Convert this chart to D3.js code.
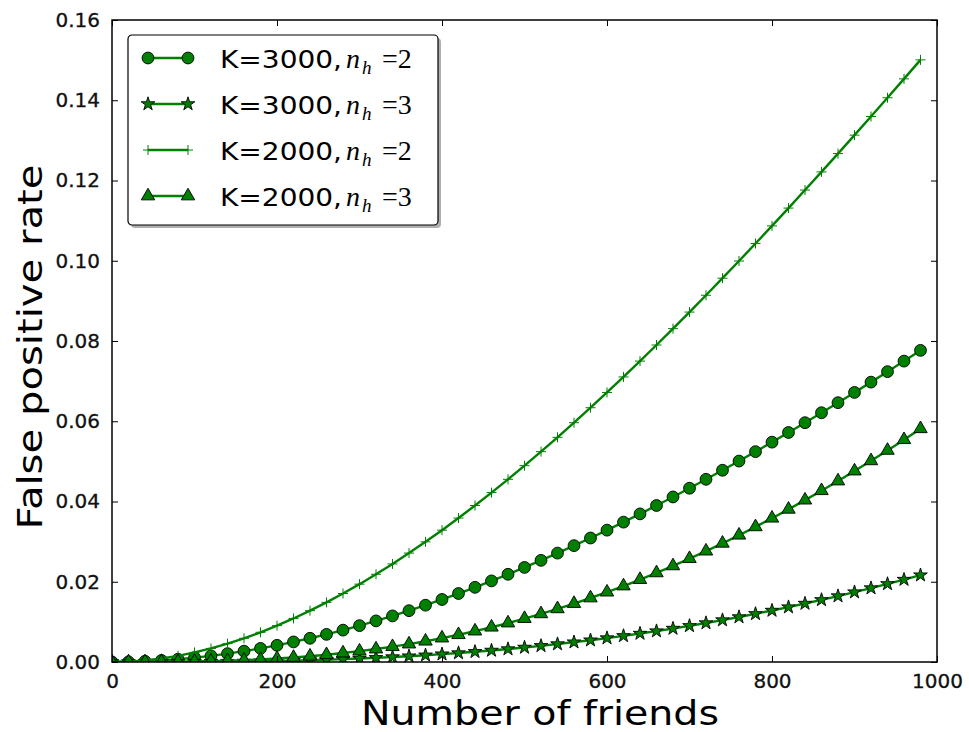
<!DOCTYPE html>
<html>
<head>
<meta charset="utf-8">
<script src="https://cdn.jsdelivr.net/npm/d3@7"></script>
<style>
  body { margin: 0; background: #fff; }
  text { font-family: "DejaVu Sans", sans-serif; }
</style>
</head>
<body>
<div id="graph"></div>
<script>
// x values (number of friends), one marker every 20
let friends = [0, 20, 40, 60, 80, 100, 120, 140, 160, 180, 200, 220, 240, 260, 280, 300, 320, 340, 360, 380,
  400, 420, 440, 460, 480, 500, 520, 540, 560, 580, 600, 620, 640, 660, 680, 700, 720, 740, 760, 780,
  800, 820, 840, 860, 880, 900, 920, 940, 960, 980];

// false positive rate
let k3000n2 = [0, 0.00004, 0.00018, 0.00039, 0.00069, 0.00108, 0.00154, 0.00208, 0.0027, 0.00339,
  0.00416, 0.005, 0.00591, 0.00689, 0.00794, 0.00906, 0.01024, 0.01148, 0.01279, 0.01416,
  0.01558, 0.01707, 0.01861, 0.02021, 0.02186, 0.02357, 0.02533, 0.02714, 0.029, 0.0309,
  0.03286, 0.03486, 0.03691, 0.039, 0.04113, 0.04331, 0.04553, 0.04779, 0.05008, 0.05242,
  0.05479, 0.0572, 0.05964, 0.06212, 0.06463, 0.06718, 0.06975, 0.07236, 0.07499, 0.07766];
let k3000n3 = [0, 0, 0, 0.00001, 0.00002, 0.00004, 0.00006, 0.00009, 0.00014, 0.0002,
  0.00027, 0.00035, 0.00045, 0.00057, 0.00071, 0.00086, 0.00104, 0.00123, 0.00145, 0.00168,
  0.00195, 0.00223, 0.00254, 0.00287, 0.00323, 0.00362, 0.00403, 0.00447, 0.00494, 0.00543,
  0.00596, 0.00651, 0.00709, 0.0077, 0.00834, 0.00901, 0.00971, 0.01045, 0.01121, 0.012,
  0.01283, 0.01368, 0.01457, 0.01548, 0.01643, 0.01741, 0.01842, 0.01946, 0.02054, 0.02164];
let k2000n2 = [0, 0.0001, 0.00039, 0.00087, 0.00154, 0.00238, 0.00339, 0.00457, 0.00591, 0.00741,
  0.00906, 0.01085, 0.01279, 0.01486, 0.01707, 0.0194, 0.02186, 0.02444, 0.02714, 0.02994,
  0.03286, 0.03588, 0.039, 0.04222, 0.04553, 0.04893, 0.05242, 0.05599, 0.05964, 0.06337,
  0.06718, 0.07105, 0.07499, 0.079, 0.08308, 0.08721, 0.0914, 0.09565, 0.09994, 0.10429,
  0.10869, 0.11313, 0.11762, 0.12214, 0.12671, 0.13131, 0.13595, 0.14062, 0.14533, 0.15006];
let k2000n3 = [0, 0, 0.00001, 0.00003, 0.00006, 0.00012, 0.0002, 0.00031, 0.00045, 0.00064,
  0.00086, 0.00113, 0.00145, 0.00181, 0.00223, 0.0027, 0.00323, 0.00382, 0.00447, 0.00518,
  0.00596, 0.0068, 0.0077, 0.00867, 0.00971, 0.01082, 0.012, 0.01325, 0.01457, 0.01595,
  0.01741, 0.01894, 0.02054, 0.02221, 0.02395, 0.02575, 0.02763, 0.02958, 0.0316, 0.03368,
  0.03583, 0.03805, 0.04034, 0.04269, 0.0451, 0.04758, 0.05013, 0.05273, 0.0554, 0.05813];

// legend pieces
let seriesK = ["K=3000,", "K=3000,", "K=2000,", "K=2000,"];
let seriesNh = ["2", "3", "2", "3"];
let seriesMarker = ["circle", "star", "plus", "triangle"];
let seriesValues = [k3000n2, k3000n3, k2000n2, k2000n3];

let xTicks = [0, 200, 400, 600, 800, 1000];
let yTicks = [0, 0.02, 0.04, 0.06, 0.08, 0.1, 0.12, 0.14, 0.16];

let green = "#008000";

// set the dimensions and margins of the graph
let margin = { top: 20, right: 32, bottom: 70, left: 112 },
  width = 969 - margin.left - margin.right,
  height = 732 - margin.top - margin.bottom;

let svg = d3
  .select("#graph")
  .append("svg")
  .attr("width", 969)
  .attr("height", 732)
  .append("g")
  .attr("transform", `translate(${margin.left},${margin.top})`);

let x = d3.scaleLinear().domain([0, 1000]).range([0, width]);
let y = d3.scaleLinear().domain([0, 0.16]).range([height, 0]);

svg
  .append("clipPath")
  .attr("id", "plotClip")
  .append("rect")
  .attr("width", width)
  .attr("height", height);

//marker shapes, drawn black edged like matplotlib
function markerPath(kind) {
  if (kind === "circle") return d3.symbol(d3.symbolCircle, 110)();
  if (kind === "star") return d3.symbol(d3.symbolStar, 58)();
  if (kind === "triangle") return d3.symbol(d3.symbolTriangle, 78)();
  return "M-5,0H5M0,-5V5";
}

function drawMarker(g, kind) {
  g.append("path")
    .attr("d", markerPath(kind))
    .attr("fill", kind === "plus" ? "none" : green)
    .attr("stroke", kind === "plus" ? green : "#000")
    .attr("stroke-width", kind === "plus" ? 1 : 0.9);
}

// curves and markers
let plot = svg.append("g").attr("clip-path", "url(#plotClip)");
let line = d3
  .line()
  .x((d, i) => x(friends[i]))
  .y((d) => y(d));

seriesValues.forEach((vals, s) => {
  let g = plot.append("g");
  g.append("path")
    .datum(vals)
    .attr("fill", "none")
    .attr("stroke", green)
    .attr("stroke-width", 2.4)
    .attr("d", line);
  vals.forEach((v, i) => {
    let m = g
      .append("g")
      .attr("transform", `translate(${x(friends[i])},${y(v)})`);
    drawMarker(m, seriesMarker[s]);
  });
});

//axes: ticks point inward on all four sides
svg
  .append("g")
  .attr("transform", `translate(0,${height})`)
  .call(d3.axisBottom(x).tickValues(xTicks).tickSizeInner(-6).tickSizeOuter(0).tickPadding(12).tickFormat(d3.format("d")));
svg
  .append("g")
  .call(d3.axisTop(x).tickValues(xTicks).tickSizeInner(-6).tickSizeOuter(0).tickFormat(""));
svg
  .append("g")
  .call(d3.axisLeft(y).tickValues(yTicks).tickSizeInner(-6).tickSizeOuter(0).tickPadding(12).tickFormat(d3.format(".2f")));
svg
  .append("g")
  .attr("transform", `translate(${width},0)`)
  .call(d3.axisRight(y).tickValues(yTicks).tickSizeInner(-6).tickSizeOuter(0).tickFormat(""));

svg.selectAll(".domain").remove();
svg.selectAll(".tick line").attr("stroke", "#000").attr("stroke-width", 1);
svg
  .selectAll(".tick text")
  .style("font-size", "20px")
  .attr("fill", "#111")
  .attr("stroke", "#111")
  .attr("stroke-width", 0.3);

svg
  .append("rect")
  .attr("width", width)
  .attr("height", height)
  .attr("fill", "none")
  .attr("stroke", "#000")
  .attr("stroke-width", 1.5);

// axis titles
svg
  .append("text")
  .attr("x", 428)
  .attr("y", height + 63)
  .attr("text-anchor", "middle")
  .attr("textLength", 358)
  .attr("lengthAdjust", "spacingAndGlyphs")
  .style("font-size", "33px")
  .text("Number of friends");
svg
  .append("text")
  .attr("transform", `translate(-70,${height / 2 + 6}) rotate(-90)`)
  .attr("text-anchor", "middle")
  .attr("textLength", 365)
  .attr("lengthAdjust", "spacingAndGlyphs")
  .style("font-size", "33px")
  .text("False positive rate");

// legend with drop shadow
let legend = svg.append("g").attr("transform", "translate(16,15)");
legend
  .append("rect")
  .attr("x", 3)
  .attr("y", 3)
  .attr("width", 310)
  .attr("height", 190)
  .attr("rx", 4)
  .attr("fill", "#b0b0b0");
legend
  .append("rect")
  .attr("width", 310)
  .attr("height", 190)
  .attr("rx", 4)
  .attr("fill", "#fff")
  .attr("stroke", "#000")
  .attr("stroke-width", 1.2);

seriesK.forEach((k, i) => {
  let row = legend.append("g").attr("transform", `translate(0,${23 + i * 46})`);
  row
    .append("line")
    .attr("x1", 20)
    .attr("x2", 60)
    .attr("stroke", green)
    .attr("stroke-width", 2.4);
  [20, 60].forEach((mx) => {
    drawMarker(row.append("g").attr("transform", `translate(${mx},0)`), seriesMarker[i]);
  });
  row
    .append("text")
    .attr("x", 92)
    .attr("y", 10)
    .attr("textLength", 122)
    .attr("lengthAdjust", "spacingAndGlyphs")
    .style("font-size", "25px")
    .text(k);
  row
    .append("text")
    .attr("x", 218)
    .attr("y", 10)
    .style("font-family", "'Liberation Serif', serif")
    .style("font-style", "italic")
    .style("font-size", "28px")
    .text("n");
  row
    .append("text")
    .attr("x", 234)
    .attr("y", 16)
    .style("font-family", "'Liberation Serif', serif")
    .style("font-style", "italic")
    .style("font-size", "19px")
    .text("h");
  row
    .append("text")
    .attr("x", 254)
    .attr("y", 10)
    .style("font-family", "'Liberation Serif', serif")
    .style("font-size", "28px")
    .text("=" + seriesNh[i]);
});
</script>
</body>
</html>
